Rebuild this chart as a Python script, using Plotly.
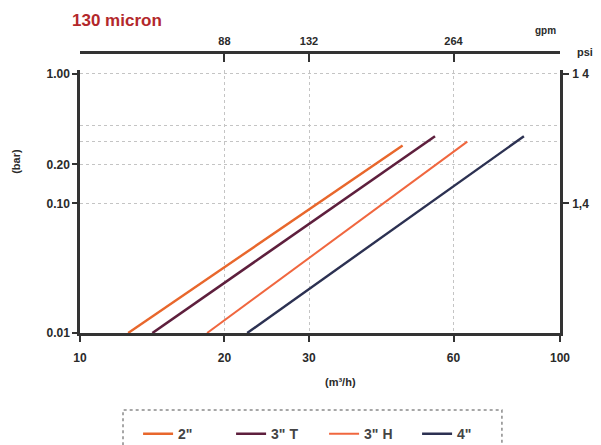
import plotly.graph_objects as go

# ---- data ----
series_names = ['2"', '3" T', '3" H', '4"']
flow_m3h = {            # flow (m³/h), start and end of each curve
    '2"':   [12.6, 47.0],
    '3" T': [14.15, 54.9],
    '3" H': [18.4, 64.1],
    '4"':   [22.3, 84.1],
}
dp_bar = {              # pressure drop (bar), start and end
    '2"':   [0.01, 0.28],
    '3" T': [0.01, 0.33],
    '3" H': [0.01, 0.30],
    '4"':   [0.01, 0.33],
}
x_ticks = [10, 20, 30, 60, 100]
x_ticktext = ['10', '20', '30', '60', '100']
gpm_ticks = [20, 30, 60]
gpm_ticktext = ['88', '132', '264']
y_ticks = [1.0, 0.2, 0.1, 0.01]
y_ticktext = ['1.00', '0.20', '0.10', '0.01']
y_minor_grid = [0.4, 0.3]
psi_ticks = [1.0, 0.1]
psi_ticktext = ['1 4', '1,4']

colors = {'2"': '#e8672c', '3" T': '#5e1f3d', '3" H': '#f0673f', '4"': '#2c3152'}
widths = {'2"': 2.4, '3" T': 2.6, '3" H': 2.0, '4"': 2.4}

FONT = 'Liberation Sans'
AX = '#333333'
GRID = '#c4c4c4'

fig = go.Figure()
for name in series_names:
    fig.add_trace(go.Scatter(
        x=flow_m3h[name], y=dp_bar[name], mode='lines', name=name,
        line=dict(color=colors[name], width=widths[name]),
    ))

# invisible traces to activate the secondary axes
fig.add_trace(go.Scatter(x=[x_ticks[0], x_ticks[-1]], y=[y_ticks[-1], y_ticks[0]],
                         xaxis='x2', yaxis='y', mode='markers',
                         marker=dict(opacity=0), showlegend=False, hoverinfo='skip'))
fig.add_trace(go.Scatter(x=[x_ticks[0], x_ticks[-1]], y=[y_ticks[-1], y_ticks[0]],
                         xaxis='x', yaxis='y2', mode='markers',
                         marker=dict(opacity=0), showlegend=False, hoverinfo='skip'))

tickfont = dict(family=FONT, size=12, color='#2a2a2a', weight='bold')

# the page body has an 8px margin, so the figure is 8px smaller than the window
fig.update_layout(
    width=593, height=437,
    margin=dict(l=72, r=41, t=44, b=112, autoexpand=False),
    paper_bgcolor='white', plot_bgcolor='white',
    xaxis=dict(
        type='log', range=[1, 2], domain=[0, 1],
        tickmode='array', tickvals=x_ticks, ticktext=x_ticktext,
        ticks='outside', ticklen=6, tickwidth=2, tickcolor=AX,
        ticklabelstandoff=6,
        showline=True, linecolor=AX, linewidth=2.5,
        showgrid=True, gridcolor=GRID, griddash='dot', gridwidth=1,
        tickfont=tickfont, zeroline=False,
    ),
    xaxis2=dict(
        type='log', range=[1, 2], overlaying='x', anchor='free', position=1,
        side='top',
        tickmode='array', tickvals=gpm_ticks, ticktext=gpm_ticktext,
        ticks='inside', ticklen=8, tickwidth=2, tickcolor=AX,
        ticklabelstandoff=2,
        showline=True, linecolor=AX, linewidth=2.5,
        showgrid=False, tickfont=dict(family=FONT, size=11, color='#2a2a2a', weight='bold'),
        zeroline=False,
    ),
    yaxis=dict(
        type='log', range=[-2, 0.03], domain=[0, 0.936],
        tickmode='array', tickvals=y_ticks, ticktext=y_ticktext,
        ticks='outside', ticklen=5, tickwidth=2, tickcolor=AX,
        showline=True, linecolor=AX, linewidth=2.5,
        showgrid=True, gridcolor=GRID, griddash='dot', gridwidth=1,
        minor=dict(tickmode='array', tickvals=y_minor_grid, showgrid=True,
                   gridcolor=GRID, griddash='dot', gridwidth=1, ticks=''),
        tickfont=tickfont, zeroline=False,
    ),
    yaxis2=dict(
        type='log', range=[-2, 0.03], overlaying='y', side='right', anchor='x',
        tickmode='array', tickvals=psi_ticks, ticktext=psi_ticktext,
        ticks='outside', ticklen=6, tickwidth=2, tickcolor=AX,
        ticklabelstandoff=1,
        showline=True, linecolor=AX, linewidth=2.5, showgrid=False,
        tickfont=tickfont, zeroline=False,
    ),
    legend=dict(
        orientation='h', x=0.121, xanchor='left', y=-0.36, yanchor='middle',
        font=dict(family=FONT, size=14, color='#444444', weight='bold'),
        bgcolor='rgba(0,0,0,0)', borderwidth=0,
        entrywidth=48, entrywidthmode='pixels', itemwidth=30,
    ),
    showlegend=True,
    shapes=[dict(type='rect', xref='paper', yref='paper',
                 x0=0.0896, x1=0.879, y0=-0.43, y1=-0.274,
                 line=dict(color='#8a8a8a', width=1.5, dash='dot'))],
    annotations=[
        dict(text='130 micron', xref='paper', yref='paper', x=-0.021, y=1.112,
             xanchor='left', yanchor='middle', showarrow=False,
             font=dict(family=FONT, size=17, color='#b3282b', weight='bold')),
        dict(text='(bar)', xref='paper', yref='paper', x=-0.135, y=0.61,
             xanchor='center', yanchor='middle', showarrow=False, textangle=-90,
             font=dict(family=FONT, size=11, color='#2a2a2a', weight='bold')),
        dict(text='(m³/h)', xref='paper', yref='paper', x=0.542, y=-0.174,
             xanchor='center', yanchor='middle', showarrow=False,
             font=dict(family=FONT, size=11, color='#2a2a2a', weight='bold')),
        dict(text='gpm', xref='paper', yref='paper', x=0.969, y=1.078,
             xanchor='center', yanchor='middle', showarrow=False,
             font=dict(family=FONT, size=10, color='#2a2a2a', weight='bold')),
        dict(text='psi', xref='paper', yref='paper', x=1.052, y=1.0,
             xanchor='center', yanchor='middle', showarrow=False,
             font=dict(family=FONT, size=11, color='#2a2a2a', weight='bold')),
    ],
)

fig.write_html("out.html")
